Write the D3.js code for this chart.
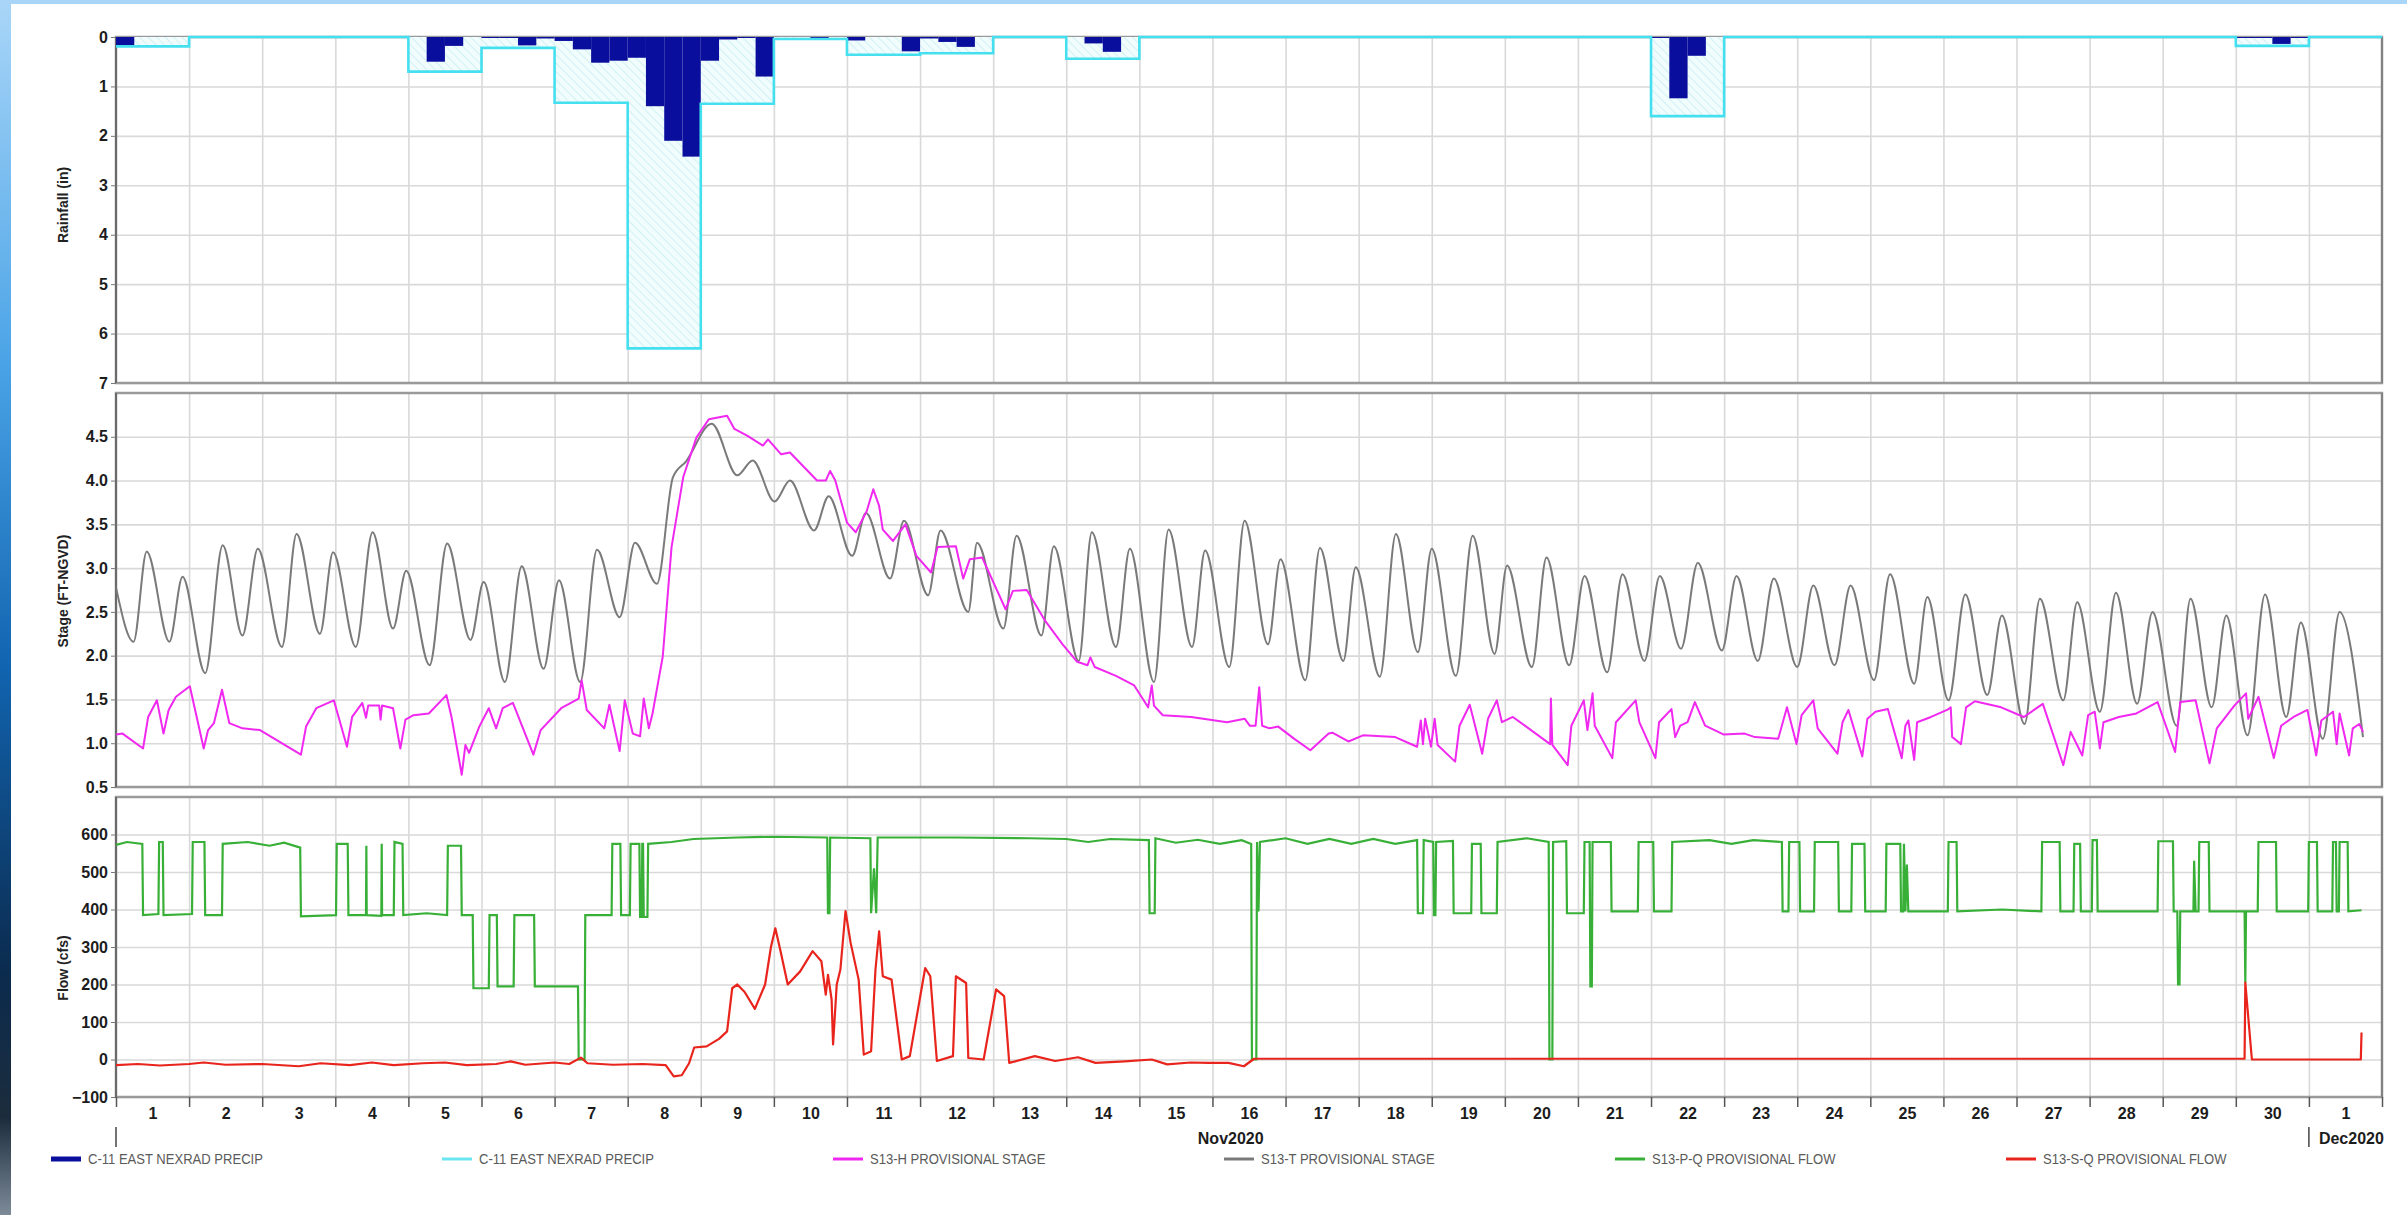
<!DOCTYPE html>
<html>
<head>
<meta charset="utf-8">
<script src="https://cdn.jsdelivr.net/npm/d3@7"></script>
<style>
  html, body { margin: 0; padding: 0; background: #fff; }
  svg { display: block; }
  text { font-family: "Liberation Sans", Arial, sans-serif; }
</style>
</head>
<body>
<svg id="chart"></svg>
<script>
// ---------- data (days counted from Nov 1 2020 00:00) ----------
const dayLabels = ["1","2","3","4","5","6","7","8","9","10","11","12","13","14","15","16",
  "17","18","19","20","21","22","23","24","25","26","27","28","29","30","1"];

// daily totals (light cyan bars), one per day
const dailyRain = [0.19,0,0,0,0.70,0.22,1.33,6.30,1.35,0.04,0.36,0.33,0,0.44,0,0,
  0,0,0,0,0,1.60,0,0,0,0,0,0,0,0.18,0];

// 6-hour totals (dark blue bars): start hour and value
const nexradHours = [0,102,108,120,126,132,138,144,150,156,162,168,174,180,186,192,198,204,210,
  228,240,258,264,270,276,318,324,504,510,516,696,702,708,714];
const nexradRain = [0.17,0.50,0.18,0.02,0.02,0.17,0.03,0.08,0.25,0.52,0.48,0.42,1.40,2.10,2.42,
  0.48,0.05,0.02,0.80,0.03,0.07,0.29,0.03,0.10,0.20,0.13,0.30,0.02,1.24,0.38,0.02,0.02,0.14,0.02];

// S13-T stage (tide), highs and lows
const stageT = [[0,2.78],[0.24,2.16],[0.42,3.19],[0.73,2.16],[0.91,2.90],[1.22,1.80],[1.46,3.26],
  [1.73,2.23],[1.94,3.22],[2.27,2.10],[2.47,3.39],[2.79,2.25],[2.97,3.18],[3.28,2.10],[3.51,3.41],
  [3.79,2.31],[3.97,2.97],[4.29,1.89],[4.53,3.28],[4.85,2.18],[5.03,2.84],[5.32,1.70],[5.55,3.02],
  [5.85,1.85],[6.06,2.86],[6.35,1.70],[6.58,3.21],[6.89,2.44],[7.10,3.29],[7.40,2.82],[7.62,4.04],
  [7.80,4.22],[8.15,4.65],[8.50,4.06],[8.71,4.23],[9.01,3.76],[9.22,4.00],[9.55,3.43],[9.75,3.82],
  [10.07,3.14],[10.26,3.63],[10.59,2.88],[10.78,3.54],[11.11,2.69],[11.28,3.43],[11.66,2.50],
  [11.78,3.29],[12.14,2.31],[12.32,3.37],[12.66,2.23],[12.83,3.25],[13.17,1.94],[13.35,3.41],
  [13.68,2.10],[13.87,3.22],[14.20,1.70],[14.40,3.44],[14.72,2.10],[14.90,3.20],[15.23,1.87],
  [15.44,3.54],[15.76,2.13],[15.93,3.10],[16.27,1.72],[16.47,3.23],[16.79,1.94],[16.96,3.01],
  [17.29,1.76],[17.51,3.39],[17.81,2.04],[18.00,3.22],[18.33,1.77],[18.56,3.37],[18.86,2.02],
  [19.03,3.03],[19.37,1.87],[19.57,3.12],[19.88,1.89],[20.09,2.91],[20.40,1.81],[20.61,2.93],
  [20.91,1.94],[21.12,2.91],[21.41,2.08],[21.64,3.06],[21.97,2.06],[22.17,2.91],[22.46,1.94],
  [22.68,2.88],[23.00,1.87],[23.22,2.80],[23.51,1.89],[23.73,2.80],[24.05,1.72],[24.27,2.93],
  [24.60,1.68],[24.78,2.67],[25.07,1.49],[25.30,2.70],[25.60,1.55],[25.80,2.46],[26.11,1.22],
  [26.32,2.65],[26.64,1.49],[26.83,2.61],[27.14,1.36],[27.36,2.72],[27.65,1.45],[27.86,2.50],
  [28.19,1.20],[28.38,2.65],[28.67,1.41],[28.87,2.46],[29.16,1.09],[29.40,2.70],[29.69,1.30],
  [29.89,2.38],[30.19,1.05],[30.42,2.50],[30.74,1.07]];

// S13-H stage
const stageH = [[0,1.10],[0.09,1.11],[0.37,0.94],[0.44,1.30],[0.56,1.49],[0.65,1.11],[0.72,1.38],
  [0.82,1.53],[1.01,1.65],[1.20,0.94],[1.26,1.15],[1.34,1.23],[1.45,1.61],[1.55,1.23],[1.73,1.17],
  [1.97,1.15],[2.53,0.87],[2.60,1.19],[2.74,1.40],[2.98,1.49],[3.16,0.96],[3.23,1.30],[3.37,1.46],
  [3.42,1.29],[3.45,1.43],[3.60,1.43],[3.62,1.27],[3.64,1.43],[3.79,1.40],[3.89,0.94],[3.96,1.27],
  [4.07,1.32],[4.28,1.34],[4.52,1.55],[4.59,1.30],[4.73,0.64],[4.78,0.98],[4.83,0.89],[4.97,1.19],
  [5.10,1.40],[5.20,1.17],[5.29,1.40],[5.43,1.46],[5.71,0.87],[5.81,1.15],[6.09,1.40],[6.33,1.51],
  [6.37,1.72],[6.44,1.38],[6.68,1.17],[6.75,1.44],[6.89,0.91],[6.96,1.49],[7.07,1.11],[7.17,1.08],
  [7.22,1.51],[7.29,1.17],[7.34,1.34],[7.48,1.99],[7.60,3.24],[7.76,4.04],[7.94,4.49],[8.11,4.70],
  [8.36,4.74],[8.46,4.59],[8.64,4.51],[8.85,4.40],[8.92,4.47],[9.10,4.30],[9.22,4.32],[9.59,4.00],
  [9.71,4.00],[9.77,4.11],[9.84,4.00],[10.00,3.52],[10.12,3.41],[10.27,3.65],[10.36,3.90],
  [10.44,3.71],[10.49,3.44],[10.63,3.31],[10.80,3.50],[10.95,3.14],[11.15,2.95],[11.24,3.24],
  [11.49,3.25],[11.59,2.88],[11.68,3.10],[11.85,3.12],[12.17,2.53],[12.27,2.74],[12.46,2.75],
  [12.71,2.40],[12.95,2.13],[13.15,1.93],[13.29,1.89],[13.33,1.98],[13.39,1.87],[13.68,1.77],
  [13.93,1.66],[14.12,1.41],[14.17,1.66],[14.20,1.43],[14.32,1.32],[14.71,1.30],[15.20,1.24],
  [15.44,1.28],[15.51,1.20],[15.59,1.20],[15.64,1.64],[15.68,1.20],[15.78,1.17],[15.90,1.19],
  [16.12,1.05],[16.34,0.92],[16.59,1.11],[16.64,1.12],[16.86,1.02],[17.06,1.09],[17.50,1.07],
  [17.80,0.96],[17.85,1.26],[17.88,0.99],[17.91,1.28],[17.99,0.96],[18.04,1.28],[18.08,0.98],
  [18.32,0.79],[18.38,1.20],[18.52,1.44],[18.69,0.88],[18.77,1.28],[18.89,1.49],[18.96,1.24],
  [19.11,1.30],[19.62,0.99],[19.63,1.51],[19.65,0.98],[19.86,0.75],[19.91,1.20],[20.08,1.49],
  [20.13,1.15],[20.20,1.57],[20.23,1.20],[20.47,0.83],[20.52,1.24],[20.79,1.49],[20.84,1.24],
  [21.06,0.83],[21.11,1.24],[21.28,1.39],[21.33,1.07],[21.40,1.20],[21.50,1.24],[21.60,1.47],
  [21.74,1.20],[21.99,1.10],[22.28,1.11],[22.42,1.07],[22.74,1.05],[22.86,1.41],[22.99,0.99],
  [23.06,1.32],[23.22,1.49],[23.28,1.17],[23.55,0.88],[23.62,1.24],[23.70,1.38],[23.89,0.85],
  [23.96,1.28],[24.07,1.36],[24.24,1.39],[24.43,0.83],[24.48,1.20],[24.52,1.26],[24.60,0.81],
  [24.64,1.24],[24.83,1.30],[25.05,1.38],[25.10,1.41],[25.12,1.07],[25.24,0.99],[25.31,1.41],
  [25.43,1.48],[25.79,1.41],[26.10,1.30],[26.36,1.45],[26.64,0.75],[26.74,1.13],[26.90,0.86],
  [26.98,1.32],[27.07,1.36],[27.14,0.94],[27.19,1.24],[27.40,1.30],[27.64,1.34],[27.93,1.47],
  [28.17,0.90],[28.24,1.47],[28.45,1.49],[28.64,0.77],[28.74,1.17],[28.98,1.43],[29.14,1.57],
  [29.17,1.28],[29.31,1.53],[29.52,0.83],[29.62,1.20],[29.79,1.30],[29.98,1.38],[30.10,0.86],
  [30.17,1.26],[30.33,1.36],[30.38,0.99],[30.42,1.34],[30.55,0.86],[30.60,1.17],[30.69,1.22],
  [30.74,1.13]];

// S13-P-Q flow (gate steps)
const flowP = [[0,572],[0.15,580],[0.36,575],[0.37,385],[0.58,388],[0.59,580],[0.64,580],[0.65,385],
  [1.04,388],[1.05,580],[1.21,580],[1.22,385],[1.45,385],[1.46,575],[1.8,580],[2.1,570],[2.3,578],
  [2.52,565],[2.53,382],[3.01,385],[3.02,575],[3.17,575],[3.18,385],[3.42,385],[3.425,570],
  [3.43,385],[3.63,383],[3.635,575],[3.64,385],[3.80,385],[3.81,580],[3.92,575],[3.93,385],
  [4.25,390],[4.53,385],[4.54,570],[4.72,570],[4.73,385],[4.88,385],[4.89,190],[5.10,190],
  [5.11,385],[5.21,385],[5.22,195],[5.44,195],[5.45,385],[5.72,385],[5.73,195],[6.32,195],
  [6.33,0],[6.41,0],[6.42,385],[6.78,385],[6.79,575],[6.90,575],[6.91,385],[7.03,385],[7.04,575],
  [7.16,575],[7.17,380],[7.19,380],[7.20,575],[7.21,575],[7.22,380],[7.27,380],[7.28,575],
  [7.6,580],[7.9,588],[8.5,592],[9.0,594],[9.73,592],[9.74,390],[9.76,390],[9.77,592],[10.32,590],
  [10.33,390],[10.37,510],[10.40,390],[10.42,592],[11.5,592],[12.5,590],[13.0,588],[13.3,580],
  [13.6,588],[14.13,585],[14.14,390],[14.21,390],[14.22,590],[14.5,578],[14.8,586],[15.1,575],
  [15.4,585],[15.53,575],[15.54,0],[15.60,0],[15.61,580],[15.63,395],[15.65,580],[16.0,590],
  [16.3,575],[16.6,588],[16.9,575],[17.2,588],[17.5,575],[17.80,585],[17.81,390],[17.88,390],
  [17.89,585],[18.02,580],[18.03,385],[18.05,385],[18.06,580],[18.29,583],[18.30,390],[18.54,390],
  [18.55,575],[18.67,575],[18.68,390],[18.89,390],[18.90,580],[19.3,590],[19.60,580],[19.61,0],
  [19.65,0],[19.66,580],[19.84,582],[19.85,390],[20.08,390],[20.09,580],[20.16,580],[20.17,195],
  [20.19,195],[20.20,580],[20.45,580],[20.46,395],[20.82,395],[20.83,580],[21.03,580],[21.04,395],
  [21.28,395],[21.29,580],[21.8,585],[22.1,575],[22.4,585],[22.79,580],[22.80,395],[22.88,395],
  [22.89,580],[23.03,580],[23.04,395],[23.23,395],[23.24,580],[23.56,580],[23.57,395],[23.74,395],
  [23.75,575],[23.92,575],[23.93,395],[24.21,395],[24.22,575],[24.41,575],[24.42,395],[24.45,395],
  [24.46,575],[24.48,395],[24.50,520],[24.52,395],[25.06,395],[25.07,580],[25.18,580],[25.19,395],
  [25.8,400],[26.34,395],[26.35,580],[26.59,580],[26.60,395],[26.78,395],[26.79,575],[26.87,575],
  [26.88,395],[27.03,395],[27.04,585],[27.10,585],[27.11,395],[27.93,395],[27.94,582],[28.14,582],
  [28.15,395],[28.20,395],[28.21,200],[28.23,200],[28.24,395],[28.42,395],[28.43,530],[28.45,395],
  [28.49,395],[28.50,580],[28.63,580],[28.64,395],[29.12,395],[29.13,205],[29.14,395],[29.30,395],
  [29.31,580],[29.55,580],[29.56,395],[29.99,395],[30.00,580],[30.11,580],[30.12,395],[30.32,395],
  [30.33,580],[30.37,580],[30.38,395],[30.41,395],[30.42,580],[30.53,580],[30.54,395],[30.72,398]];

// S13-S-Q flow
const flowS = [[0,-15],[0.3,-12],[0.6,-16],[1.0,-12],[1.2,-8],[1.5,-14],[2.0,-12],[2.5,-18],
  [2.8,-10],[3.2,-15],[3.5,-8],[3.8,-15],[4.2,-10],[4.5,-8],[4.8,-15],[5.2,-12],[5.4,-5],[5.6,-14],
  [6.0,-8],[6.2,-12],[6.36,5],[6.45,-10],[6.8,-14],[7.2,-12],[7.52,-15],[7.63,-45],[7.74,-42],
  [7.84,-10],[7.91,32],[8.08,35],[8.25,55],[8.36,75],[8.43,190],[8.50,200],[8.60,180],[8.74,135],
  [8.88,200],[8.96,300],[9.02,350],[9.09,290],[9.19,200],[9.36,235],[9.53,289],[9.65,262],
  [9.71,173],[9.74,226],[9.79,160],[9.81,40],[9.86,200],[9.91,240],[9.98,396],[10.05,311],
  [10.16,213],[10.23,13],[10.33,22],[10.39,240],[10.44,342],[10.49,222],[10.61,213],[10.75,0],
  [10.86,9],[11.07,244],[11.14,222],[11.23,-4],[11.45,9],[11.49,222],[11.63,204],[11.66,4],
  [11.87,0],[12.04,187],[12.15,169],[12.22,-9],[12.57,9],[12.85,-4],[13.16,6],[13.40,-9],
  [13.8,-5],[14.17,0],[14.38,-13],[14.7,-8],[14.94,-9],[15.22,-9],[15.43,-18],[15.57,2],
  [29.12,2],[29.13,205],[29.22,0],[30.71,0],[30.72,72]];

const rainTicks = [0,1,2,3,4,5,6,7];
const stageTicks = [0.5,1.0,1.5,2.0,2.5,3.0,3.5,4.0,4.5];
const flowTicks = [-100,0,100,200,300,400,500,600];

const legendNames = ["C-11 EAST NEXRAD PRECIP","C-11 EAST NEXRAD PRECIP","S13-H PROVISIONAL STAGE",
  "S13-T PROVISIONAL STAGE","S13-P-Q PROVISIONAL FLOW","S13-S-Q PROVISIONAL FLOW"];
const legendColors = ["#0a0e9c","#6ae6f2","#f028f0","#7a7a7a","#38b038","#e8241c"];

// ---------- layout ----------
const W = 2407, H = 1215;
const plotLeft = 116, plotRight = 2382;

const svg = d3.select("#chart").attr("width", W).attr("height", H);
const defs = svg.append("defs");

const x = d3.scaleLinear().domain([0, 31]).range([plotLeft, plotRight]);
const yRain = d3.scaleLinear().domain([0, 7]).range([37, 383]);
const yStage = d3.scaleLinear().domain([0.5, 5]).range([787, 393]);
const yFlow = d3.scaleLinear().domain([-100, 700]).range([1097, 797]);

// blue window edge on the left and top
const edge = defs.append("linearGradient").attr("id", "edge")
  .attr("x1", "0%").attr("x2", "0%").attr("y1", "0%").attr("y2", "100%");
[["0%","#a9d6f8"],["30%","#4aa3e6"],["55%","#1164b0"],["80%","#0b2b4e"],["92%","#1c2c3c"],["100%","#7d8b99"]]
  .forEach(([o, c]) => edge.append("stop").attr("offset", o).attr("stop-color", c));
svg.append("rect").attr("width", W).attr("height", 4).attr("fill", "#a9d6f8");
svg.append("rect").attr("width", 11).attr("height", H).attr("fill", "url(#edge)");

// hatch for daily rain bars
const hatch = defs.append("pattern").attr("id", "hatch")
  .attr("width", 6).attr("height", 6).attr("patternUnits", "userSpaceOnUse")
  .attr("patternTransform", "rotate(-45)");
hatch.append("rect").attr("width", 6).attr("height", 6).attr("fill", "#f1fcfd");
hatch.append("line").attr("x1", 0).attr("x2", 0).attr("y1", 0).attr("y2", 6)
  .attr("stroke", "#c9eff4").attr("stroke-width", 1.6);

// one panel: grid, frame, y axis, title, clipped data layer
const makePanel = (id, y, ticks, fmt, title, titleY) => {
  const top = Math.min(...y.range());
  const bottom = Math.max(...y.range());
  const g = svg.append("g");

  g.append("g")
    .attr("transform", `translate(${plotLeft},0)`)
    .call(d3.axisLeft(y).tickValues(ticks).tickSize(-(plotRight - plotLeft)).tickFormat(""))
    .call((a) => a.select(".domain").remove())
    .selectAll("line").attr("stroke", "#d9d9d9").attr("stroke-width", 1.6);

  g.append("g")
    .attr("transform", `translate(0,${bottom})`)
    .call(d3.axisBottom(x).tickValues(d3.range(1, 31)).tickSize(-(bottom - top)).tickFormat(""))
    .call((a) => a.select(".domain").remove())
    .selectAll("line").attr("stroke", "#d9d9d9").attr("stroke-width", 1.6);

  g.append("rect")
    .attr("x", plotLeft).attr("y", top)
    .attr("width", plotRight - plotLeft).attr("height", bottom - top)
    .attr("fill", "none").attr("stroke", "#9a9a9a").attr("stroke-width", 2.5);
  g.append("line")
    .attr("x1", plotLeft).attr("x2", plotLeft).attr("y1", top).attr("y2", bottom)
    .attr("stroke", "#6a6a6a").attr("stroke-width", 2);
  g.append("line")
    .attr("x1", plotRight).attr("x2", plotRight).attr("y1", top).attr("y2", bottom)
    .attr("stroke", "#7a7a7a").attr("stroke-width", 1.5);

  const axis = g.append("g")
    .attr("transform", `translate(${plotLeft},0)`)
    .call(d3.axisLeft(y).tickValues(ticks).tickSize(5).tickPadding(3).tickFormat(fmt));
  axis.select(".domain").remove();
  axis.selectAll("line").attr("stroke", "#777");
  axis.selectAll("text")
    .attr("font-size", 16).attr("font-weight", "bold").attr("fill", "#1c1c1c");

  g.append("text")
    .attr("transform", `translate(63,${titleY}) rotate(-90)`)
    .attr("text-anchor", "middle").attr("dy", "0.35em")
    .attr("font-size", 14).attr("font-weight", "bold").attr("fill", "#222")
    .text(title);

  defs.append("clipPath").attr("id", `clip-${id}`)
    .append("rect")
    .attr("x", plotLeft).attr("y", top - 2)
    .attr("width", plotRight - plotLeft).attr("height", bottom - top + 4);

  return g.append("g").attr("clip-path", `url(#clip-${id})`);
};

const rainG = makePanel("rain", yRain, rainTicks, d3.format("d"), "Rainfall (in)", 205);
const stageG = makePanel("stage", yStage, stageTicks, d3.format(".1f"), "Stage (FT-NGVD)", 591);
const flowG = makePanel("flow", yFlow, flowTicks, d3.format("d"), "Flow (cfs)", 968);

// ---------- rainfall ----------
const dailyData = dailyRain.map((v, i) => ({ day: i, v })).filter((d) => d.v > 0);
rainG.selectAll("rect.daily")
  .data(dailyData)
  .enter()
  .append("rect")
  .attr("class", "daily")
  .attr("x", (d) => x(d.day))
  .attr("y", yRain(0))
  .attr("width", (d) => x(d.day + 1) - x(d.day))
  .attr("height", (d) => yRain(d.v) - yRain(0))
  .attr("fill", "url(#hatch)");

rainG.selectAll("rect.nexrad")
  .data(nexradHours.map((h, i) => ({ t: h / 24, v: nexradRain[i] })))
  .enter()
  .append("rect")
  .attr("class", "nexrad")
  .attr("x", (d) => x(d.t))
  .attr("y", yRain(0))
  .attr("width", (d) => x(d.t + 0.25) - x(d.t))
  .attr("height", (d) => yRain(d.v) - yRain(0))
  .attr("fill", "#0a0e9c");

// cyan step outline of the daily totals
const dailySteps = dailyRain.map((v, i) => [i, v]).concat([[31, dailyRain[30]]]);
rainG.append("path")
  .datum(dailySteps)
  .attr("fill", "none")
  .attr("stroke", "#45e0f0")
  .attr("stroke-width", 2.6)
  .attr("d", d3.line().x((d) => x(d[0])).y((d) => yRain(d[1])).curve(d3.curveStepAfter));

// ---------- stage ----------
stageG.append("path")
  .datum(stageT)
  .attr("fill", "none")
  .attr("stroke", "#7a7a7a")
  .attr("stroke-width", 2)
  .attr("d", d3.line().x((d) => x(d[0])).y((d) => yStage(d[1])).curve(d3.curveMonotoneX));

stageG.append("path")
  .datum(stageH)
  .attr("fill", "none")
  .attr("stroke", "#f028f0")
  .attr("stroke-width", 2)
  .attr("stroke-linejoin", "round")
  .attr("d", d3.line().x((d) => x(d[0])).y((d) => yStage(d[1])));

// ---------- flow ----------
flowG.append("path")
  .datum(flowP)
  .attr("fill", "none")
  .attr("stroke", "#38b038")
  .attr("stroke-width", 2.2)
  .attr("d", d3.line().x((d) => x(d[0])).y((d) => yFlow(d[1])));

flowG.append("path")
  .datum(flowS)
  .attr("fill", "none")
  .attr("stroke", "#e8241c")
  .attr("stroke-width", 2.2)
  .attr("stroke-linejoin", "round")
  .attr("d", d3.line().x((d) => x(d[0])).y((d) => yFlow(d[1])));

// ---------- time axis ----------
const xTicks = svg.append("g")
  .attr("transform", `translate(0,${yFlow(-100)})`)
  .call(d3.axisBottom(x).tickValues(d3.range(0, 32)).tickSize(10).tickFormat(""));
xTicks.select(".domain").remove();
xTicks.selectAll("line").attr("stroke", "#555").attr("stroke-width", 1.5);

const xLabels = svg.append("g")
  .attr("transform", `translate(0,${yFlow(-100)})`)
  .call(d3.axisBottom(x)
    .tickValues(dayLabels.map((d, i) => i + 0.5))
    .tickSize(0)
    .tickPadding(11)
    .tickFormat((d, i) => dayLabels[i]));
xLabels.select(".domain").remove();
xLabels.selectAll("text")
  .attr("font-size", 16).attr("font-weight", "bold").attr("fill", "#1c1c1c");

// month separators and names
[0, 30].forEach((d) => {
  svg.append("line")
    .attr("x1", x(d)).attr("x2", x(d)).attr("y1", 1127).attr("y2", 1147)
    .attr("stroke", "#444").attr("stroke-width", 1.5);
});
svg.append("text")
  .attr("x", x(15.25)).attr("y", 1144)
  .attr("text-anchor", "middle")
  .attr("font-size", 16).attr("font-weight", "bold").attr("fill", "#1c1c1c")
  .text("Nov2020");
svg.append("text")
  .attr("x", x(30) + 10).attr("y", 1144)
  .attr("font-size", 16).attr("font-weight", "bold").attr("fill", "#1c1c1c")
  .text("Dec2020");

// ---------- legend ----------
const legend = svg.append("g").attr("transform", "translate(51,1159)");
legendNames.forEach((name, i) => {
  const item = legend.append("g").attr("transform", `translate(${i * 391},0)`);
  item.append("line")
    .attr("x1", 0).attr("x2", 30)
    .attr("stroke", legendColors[i])
    .attr("stroke-width", i === 0 ? 5 : 3);
  // labels in the original are set in a narrow face
  item.append("text")
    .attr("transform", "translate(37,0) scale(0.87,1)")
    .attr("dy", "0.36em")
    .attr("font-size", 15)
    .attr("fill", "#5a5a5a")
    .text(name);
});
</script>
</body>
</html>
